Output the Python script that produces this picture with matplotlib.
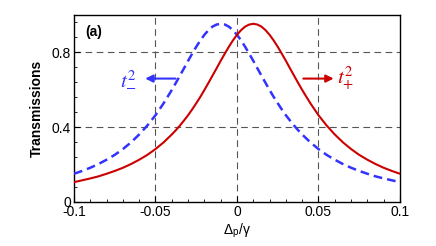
import numpy as np
import matplotlib
matplotlib.use('Agg')
import matplotlib.pyplot as plt
from matplotlib.ticker import MultipleLocator

plt.rcParams['font.family'] = ['Liberation Sans', 'DejaVu Sans']
plt.rcParams['mathtext.fontset'] = 'stix'

# detuning values (finer sampling around the peaks)
delta = [-0.1, -0.095, -0.09, -0.085, -0.08, -0.075, -0.07, -0.065, -0.06, -0.055,
         -0.05, -0.045, -0.04, -0.0375, -0.035, -0.0325, -0.03, -0.0275, -0.025,
         -0.0225, -0.02, -0.0175, -0.015, -0.0125, -0.01, -0.0075, -0.005, -0.0025,
         0.0, 0.0025, 0.005, 0.0075, 0.01, 0.0125, 0.015, 0.0175, 0.02, 0.0225,
         0.025, 0.0275, 0.03, 0.0325, 0.035, 0.0375, 0.04, 0.045, 0.05, 0.055,
         0.06, 0.065, 0.07, 0.075, 0.08, 0.085, 0.09, 0.095, 0.1]

# t_+^2 (red solid)
t_plus = [0.106, 0.116, 0.126, 0.137, 0.151, 0.166, 0.183, 0.203, 0.226, 0.252,
          0.283, 0.319, 0.361, 0.384, 0.409, 0.436, 0.464, 0.495, 0.528,
          0.562, 0.599, 0.637, 0.676, 0.715, 0.755, 0.793, 0.830, 0.864,
          0.894, 0.919, 0.938, 0.949, 0.953, 0.949, 0.938, 0.919, 0.894, 0.864,
          0.830, 0.793, 0.755, 0.715, 0.676, 0.637, 0.599, 0.528, 0.464, 0.409,
          0.361, 0.319, 0.283, 0.252, 0.226, 0.203, 0.183, 0.166, 0.151]

# t_-^2 (blue dashed)
t_minus = [0.151, 0.166, 0.183, 0.203, 0.226, 0.252, 0.283, 0.319, 0.361, 0.409,
           0.464, 0.528, 0.599, 0.637, 0.676, 0.715, 0.755, 0.793, 0.830,
           0.864, 0.894, 0.919, 0.938, 0.949, 0.953, 0.949, 0.938, 0.919,
           0.894, 0.864, 0.830, 0.793, 0.755, 0.715, 0.676, 0.637, 0.599, 0.562,
           0.528, 0.495, 0.464, 0.436, 0.409, 0.384, 0.361, 0.319, 0.283, 0.252,
           0.226, 0.203, 0.183, 0.166, 0.151, 0.137, 0.126, 0.116, 0.106]

xticks = [-0.1, -0.05, 0, 0.05, 0.1]
xticklabels = ['-0.1', '-0.05', '0', '0.05', '0.1']
yticks = [0, 0.4, 0.8]
yticklabels = ['0', '0.4', '0.8']

fig = plt.figure(figsize=(4.36, 2.46), dpi=100)
ax = fig.add_axes([0.1697, 0.1789, 0.7477, 0.7601])

# dashed grid lines
for gx in [-0.05, 0, 0.05]:
    ax.axvline(gx, color='#555555', lw=0.8, ls=(0, (6, 4)), zorder=1)
for gy in [0.4, 0.8]:
    ax.axhline(gy, color='#555555', lw=0.8, ls=(0, (6, 4)), zorder=1)

ax.plot(delta, t_minus, color='#3333ff', lw=1.8, ls=(0, (3.5, 2)), zorder=3)
ax.plot(delta, t_plus, color='#cc0000', lw=1.5, zorder=3)

ax.set_xlim(-0.1, 0.1)
ax.set_ylim(0, 1.0)
ax.set_xticks(xticks)
ax.set_xticklabels(xticklabels)
ax.set_yticks(yticks)
ax.set_yticklabels(yticklabels)
ax.xaxis.set_minor_locator(MultipleLocator(0.01))
ax.yaxis.set_minor_locator(MultipleLocator(0.08))
ax.tick_params(which='both', direction='in', labelsize=10, pad=2)
ax.tick_params(which='major', length=4, width=0.8)
ax.tick_params(which='minor', length=2.5, width=0.6)
for s in ax.spines.values():
    s.set_linewidth(1.0)

ax.set_ylabel('Transmissions', fontsize=10, fontweight='bold', labelpad=6)
ax.set_xlabel('Δ$_\\mathregular{p}$/γ', fontsize=10, labelpad=2)

ax.text(0.036, 0.91, '(a)', transform=ax.transAxes, fontsize=10,
        fontweight='bold', va='center')

# arrows and labels
ax.annotate('', xy=(-0.058, 0.66), xytext=(-0.036, 0.66),
            arrowprops=dict(arrowstyle='-|>', color='#3333ff', lw=1.5,
                            mutation_scale=11))
ax.text(-0.072, 0.66, r'$t^{2}_{-}$', color='#3333ff', fontsize=15,
        va='center', ha='left')
ax.annotate('', xy=(0.061, 0.66), xytext=(0.039, 0.66),
            arrowprops=dict(arrowstyle='-|>', color='#cc0000', lw=1.5,
                            mutation_scale=11))
ax.text(0.0615, 0.66, r'$t^{2}_{+}$', color='#cc0000', fontsize=15,
        va='center', ha='left')

fig.savefig('out.png', dpi=100)
